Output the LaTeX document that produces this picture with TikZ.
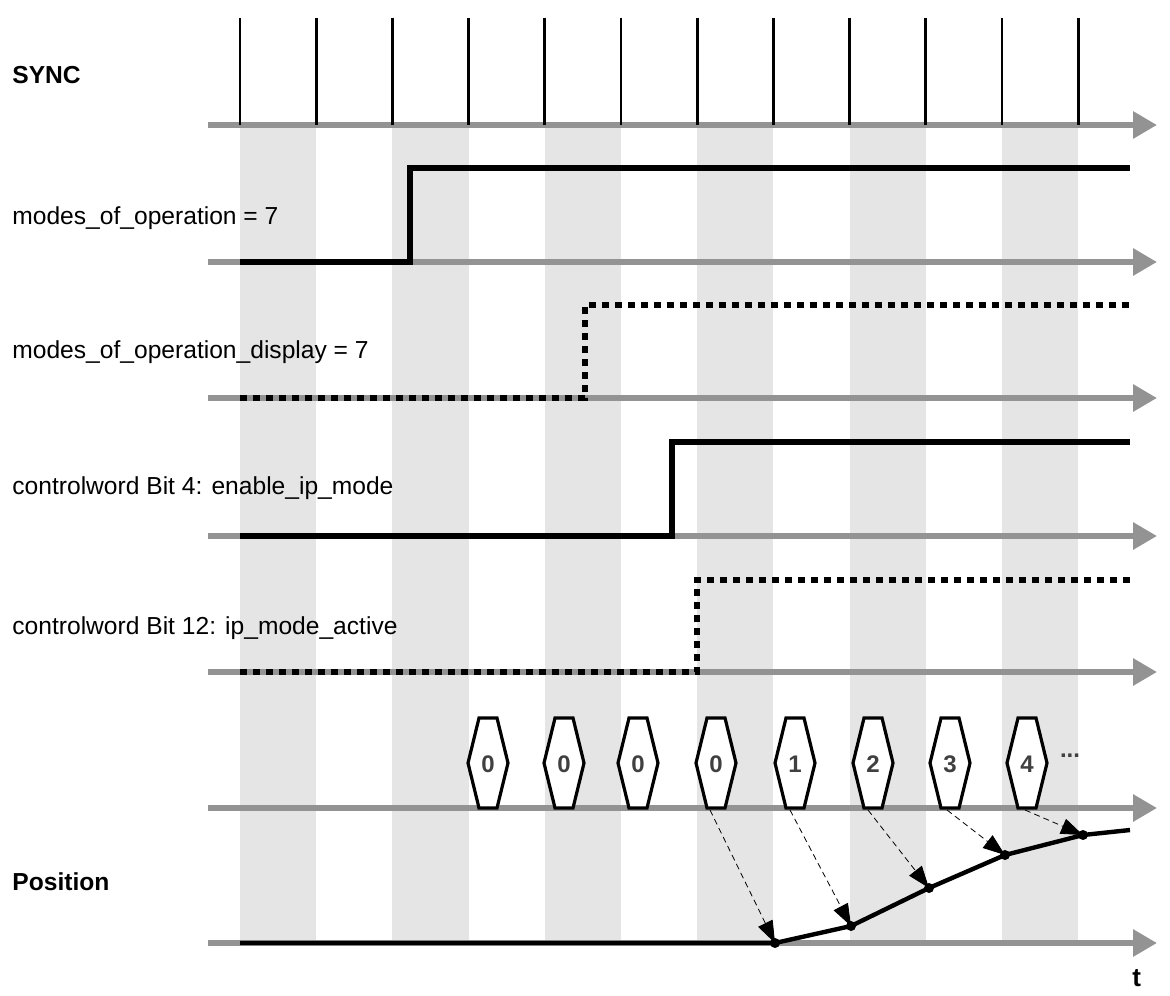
\documentclass[tikz,border=0pt]{standalone}
\usepackage{fontspec}
\setmainfont{Liberation Sans}
\usetikzlibrary{arrows.meta}
\begin{document}
\begin{tikzpicture}[x=0.5pt,y=-0.5pt,
  axis/.style={draw=gray!85,line width=3pt,-{Triangle[length=12pt,width=13pt]}},
  sig/.style={line width=3pt},
  dsig/.style={line width=3pt,dash pattern=on 3.5pt off 3pt},
  lbl/.style={anchor=west,inner sep=0pt,font=\fontsize{12.3pt}{14pt}\selectfont},
  hexn/.style={draw,line width=1.6pt,fill=white},
  dar/.style={densely dashed,thin,-{Triangle[length=11pt,width=8pt]}}]
\useasboundingbox (0,0) rectangle (1170,995);
\fill[white] (0,0) rectangle (1170,995);
% gray bands
\foreach \i in {0,2,4,6,8,10}
  \fill[gray!20] ({240+76.2*\i},125) rectangle ({240+76.2*(\i+1)},945);
% labels
\node[lbl,font=\fontsize{12.3pt}{14pt}\selectfont\bfseries] (l0) at (12,75) {SYNC};
\node[lbl] (l1) at (12,218) {modes\_of\_operation = 7};
\node[lbl] (l2) at (12,352) {modes\_of\_operation\_display = 7};
\node[lbl] (l3) at (12,488) {controlword Bit 4: enable\_ip\_mode};
\node[lbl] (l4) at (12,628) {controlword Bit 12: ip\_mode\_active};
\node[lbl,font=\fontsize{12.3pt}{14pt}\selectfont\bfseries] (l5) at (12,882) {Position};
\node[lbl,font=\fontsize{13pt}{15pt}\selectfont\bfseries] (tl) at (1132,978) {t};
% axes
\foreach \y in {125,262,398,536,672,808,943}
  \draw[axis] (208,\y) -- (1157,\y);
% sync ticks
\foreach \i in {0,...,11}
  \draw[line width=1.4pt] ({240+76.2*\i},18) -- ({240+76.2*\i},125);
% signals
\draw[sig] (240,262) -- (410,262) -- (410,168) -- (1130,168);
\draw[dsig] (240,398) -- (585,398) -- (585,305) -- (1130,305);
\draw[sig] (240,536) -- (672,536) -- (672,442) -- (1130,442);
\draw[dsig] (240,672) -- (697,672) -- (697,580) -- (1130,580);
% hexagons
\foreach \x/\v/\n in {488/0/h1,564/0/h2,638/0/h3,716/0/h4,795/1/h5,873/2/h6,950/3/h7,1027/4/h8}{
  \draw[hexn] (\x-9,718) -- (\x+9,718) -- (\x+20,763) -- (\x+9,808) -- (\x-9,808) -- (\x-20,763) -- cycle;
  \node[font=\fontsize{12pt}{14pt}\selectfont\bfseries,text=black!75] (\n) at (\x,764) {\v};
}
\node[font=\fontsize{12pt}{14pt}\selectfont\bfseries,text=black!75] (dots) at (1070,756) {...};
% position curve
\coordinate (p0) at (775,943);
\coordinate (p1) at (851,926);
\coordinate (p2) at (929,888);
\coordinate (p3) at (1005,855);
\coordinate (p4) at (1083,835);
\draw[line width=2.2pt] (240,943) -- (p0) -- (p1) -- (p2) -- (p3) -- (p4) -- (1130,830);
\foreach \p in {p0,p1,p2,p3,p4} \fill (\p) circle (2.5pt);
\coordinate (s0) at (710,810);
\coordinate (s1) at (790,810);
\coordinate (s2) at (868,810);
\coordinate (s3) at (947,810);
\coordinate (s4) at (1025,810);
\draw[dar] (s0) -- (p0);
\draw[dar] (s1) -- (p1);
\draw[dar] (s2) -- (p2);
\draw[dar] (s3) -- (p3);
\draw[dar] (s4) -- (p4);
\end{tikzpicture}
\end{document}
